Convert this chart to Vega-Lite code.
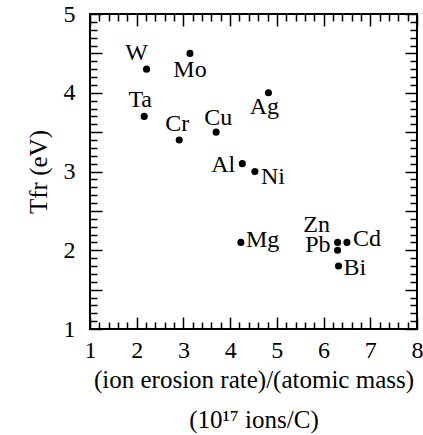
{
  "$schema": "https://vega.github.io/schema/vega-lite/v6.json",
  "width": 327,
  "height": 315,
  "autosize": {"type": "none"},
  "padding": {"left": 90, "top": 14, "right": 6, "bottom": 106},
  "background": "white",
  "config": {
    "view": {"stroke": "black", "strokeWidth": 2},
    "font": "Liberation Serif",
    "text": {"font": "Liberation Serif"},
    "axis": {
      "grid": false,
      "domain": false,
      "ticks": true,
      "tickColor": "black",
      "tickWidth": 1.5,
      "tickOpacity": 1,
      "labelColor": "black",
      "labelFont": "Liberation Serif",
      "labelFontSize": 24,
      "titleColor": "black",
      "titleFont": "Liberation Serif",
      "titleFontSize": 25,
      "titleFontWeight": "normal"
    }
  },
  "data": {
    "values": [
      {"el": "W", "rate": 2.21, "T": 4.3},
      {"el": "Mo", "rate": 3.14, "T": 4.5},
      {"el": "Ag", "rate": 4.82, "T": 4.0},
      {"el": "Ta", "rate": 2.16, "T": 3.7},
      {"el": "Cr", "rate": 2.91, "T": 3.4},
      {"el": "Cu", "rate": 3.7, "T": 3.5},
      {"el": "Al", "rate": 4.26, "T": 3.1},
      {"el": "Ni", "rate": 4.53, "T": 3.0},
      {"el": "Mg", "rate": 4.23, "T": 2.1},
      {"el": "Zn", "rate": 6.3, "T": 2.1},
      {"el": "Pb", "rate": 6.3, "T": 2.0},
      {"el": "Cd", "rate": 6.5, "T": 2.1},
      {"el": "Bi", "rate": 6.32, "T": 1.8}
    ]
  },
  "encoding": {
    "x": {"field": "rate", "type": "quantitative", "scale": {"domain": [1, 8], "nice": false, "zero": false}, "axis": null},
    "y": {"field": "T", "type": "quantitative", "scale": {"domain": [1, 5], "nice": false, "zero": false}, "axis": null}
  },
  "layer": [
    {
      "mark": {"type": "circle", "color": "black", "size": 50, "opacity": 1},
      "encoding": {
        "x": {"field": "rate", "type": "quantitative", "scale": {"domain": [1, 8], "nice": false, "zero": false},
          "axis": {"orient": "bottom", "offset": -12, "values": [1, 2, 3, 4, 5, 6, 7, 8], "tickSize": 12, "labelPadding": 9, "labelFlush": false,
            "labelFont": "Liberation Serif", "labelFontSize": 24, "labelColor": "black",
            "title": ["(ion erosion rate)/(atomic mass)", "(10¹⁷ ions/C)"], "titleLineHeight": 40, "titlePadding": 5}},
        "y": {"field": "T", "type": "quantitative", "scale": {"domain": [1, 5], "nice": false, "zero": false},
          "axis": {"orient": "left", "offset": -12, "values": [1, 1.5, 2, 2.5, 3, 3.5, 4, 4.5, 5], "tickSize": 12, "labelPadding": 15, "labelFlush": false,
            "labelFont": "Liberation Serif", "labelFontSize": 24, "labelColor": "black",
            "labelExpr": "datum.value % 1 === 0 ? format(datum.value, 'd') : ''", "title": "Tfr (eV)", "titlePadding": 12}}
      }
    },
    {
      "mark": {"type": "circle", "opacity": 0},
      "encoding": {
        "x": {"field": "rate", "type": "quantitative", "scale": {"domain": [1, 8], "nice": false, "zero": false},
          "axis": {"orient": "bottom", "offset": -7, "values": [1.2, 1.4, 1.6, 1.8, 2.2, 2.4, 2.6, 2.8, 3.2, 3.4, 3.6, 3.8, 4.2, 4.4, 4.6, 4.8, 5.2, 5.4, 5.6, 5.8, 6.2, 6.4, 6.6, 6.8, 7.2, 7.4, 7.6, 7.8], "tickSize": 7, "labels": false, "title": null}},
        "y": {"field": "T", "type": "quantitative", "scale": {"domain": [1, 5], "nice": false, "zero": false},
          "axis": {"orient": "left", "offset": -7, "values": [1.1, 1.2, 1.3, 1.4, 1.6, 1.7, 1.8, 1.9, 2.1, 2.2, 2.3, 2.4, 2.6, 2.7, 2.8, 2.9, 3.1, 3.2, 3.3, 3.4, 3.6, 3.7, 3.8, 3.9, 4.1, 4.2, 4.3, 4.4, 4.6, 4.7, 4.8, 4.9], "tickSize": 7, "labels": false, "title": null}}
      }
    },
    {
      "mark": {"type": "circle", "opacity": 0},
      "encoding": {
        "x": {"field": "rate", "type": "quantitative", "scale": {"domain": [1, 8], "nice": false, "zero": false},
          "axis": {"orient": "top", "offset": -12, "values": [1, 2, 3, 4, 5, 6, 7, 8], "tickSize": 12, "labels": false, "title": null}},
        "y": {"field": "T", "type": "quantitative", "scale": {"domain": [1, 5], "nice": false, "zero": false},
          "axis": {"orient": "right", "offset": -12, "values": [1, 1.5, 2, 2.5, 3, 3.5, 4, 4.5, 5], "tickSize": 12, "labels": false, "title": null}}
      }
    },
    {
      "mark": {"type": "circle", "opacity": 0},
      "encoding": {
        "x": {"field": "rate", "type": "quantitative", "scale": {"domain": [1, 8], "nice": false, "zero": false},
          "axis": {"orient": "top", "offset": -7, "values": [1.2, 1.4, 1.6, 1.8, 2.2, 2.4, 2.6, 2.8, 3.2, 3.4, 3.6, 3.8, 4.2, 4.4, 4.6, 4.8, 5.2, 5.4, 5.6, 5.8, 6.2, 6.4, 6.6, 6.8, 7.2, 7.4, 7.6, 7.8], "tickSize": 7, "labels": false, "title": null}},
        "y": {"field": "T", "type": "quantitative", "scale": {"domain": [1, 5], "nice": false, "zero": false},
          "axis": {"orient": "right", "offset": -7, "values": [1.1, 1.2, 1.3, 1.4, 1.6, 1.7, 1.8, 1.9, 2.1, 2.2, 2.3, 2.4, 2.6, 2.7, 2.8, 2.9, 3.1, 3.2, 3.3, 3.4, 3.6, 3.7, 3.8, 3.9, 4.1, 4.2, 4.3, 4.4, 4.6, 4.7, 4.8, 4.9], "tickSize": 7, "labels": false, "title": null}}
      }
    },
    {"transform": [{"filter": "datum.el === 'W'"}], "mark": {"type": "text", "fontSize": 24, "font": "Liberation Serif", "color": "black", "align": "center", "baseline": "alphabetic", "dx": -10, "dy": -9}, "encoding": {"text": {"field": "el"}}},
    {"transform": [{"filter": "datum.el === 'Mo'"}], "mark": {"type": "text", "fontSize": 24, "font": "Liberation Serif", "color": "black", "align": "center", "baseline": "alphabetic", "dx": 0, "dy": 24}, "encoding": {"text": {"field": "el"}}},
    {"transform": [{"filter": "datum.el === 'Ag'"}], "mark": {"type": "text", "fontSize": 24, "font": "Liberation Serif", "color": "black", "align": "center", "baseline": "alphabetic", "dx": -4, "dy": 21}, "encoding": {"text": {"field": "el"}}},
    {"transform": [{"filter": "datum.el === 'Ta'"}], "mark": {"type": "text", "fontSize": 24, "font": "Liberation Serif", "color": "black", "align": "center", "baseline": "alphabetic", "dx": -4, "dy": -9}, "encoding": {"text": {"field": "el"}}},
    {"transform": [{"filter": "datum.el === 'Cr'"}], "mark": {"type": "text", "fontSize": 24, "font": "Liberation Serif", "color": "black", "align": "center", "baseline": "alphabetic", "dx": -2, "dy": -9}, "encoding": {"text": {"field": "el"}}},
    {"transform": [{"filter": "datum.el === 'Cu'"}], "mark": {"type": "text", "fontSize": 24, "font": "Liberation Serif", "color": "black", "align": "center", "baseline": "alphabetic", "dx": 2, "dy": -7}, "encoding": {"text": {"field": "el"}}},
    {"transform": [{"filter": "datum.el === 'Zn'"}], "mark": {"type": "text", "fontSize": 24, "font": "Liberation Serif", "color": "black", "align": "center", "baseline": "alphabetic", "dx": -21, "dy": -10}, "encoding": {"text": {"field": "el"}}},
    {"transform": [{"filter": "datum.el === 'Al'"}], "mark": {"type": "text", "fontSize": 24, "font": "Liberation Serif", "color": "black", "align": "right", "baseline": "alphabetic", "dx": -7, "dy": 8}, "encoding": {"text": {"field": "el"}}},
    {"transform": [{"filter": "datum.el === 'Pb'"}], "mark": {"type": "text", "fontSize": 24, "font": "Liberation Serif", "color": "black", "align": "right", "baseline": "alphabetic", "dx": -7, "dy": 2}, "encoding": {"text": {"field": "el"}}},
    {"transform": [{"filter": "datum.el === 'Ni'"}], "mark": {"type": "text", "fontSize": 24, "font": "Liberation Serif", "color": "black", "align": "left", "baseline": "alphabetic", "dx": 6, "dy": 12}, "encoding": {"text": {"field": "el"}}},
    {"transform": [{"filter": "datum.el === 'Mg'"}], "mark": {"type": "text", "fontSize": 24, "font": "Liberation Serif", "color": "black", "align": "left", "baseline": "alphabetic", "dx": 5, "dy": 5}, "encoding": {"text": {"field": "el"}}},
    {"transform": [{"filter": "datum.el === 'Cd'"}], "mark": {"type": "text", "fontSize": 24, "font": "Liberation Serif", "color": "black", "align": "left", "baseline": "alphabetic", "dx": 6, "dy": 4}, "encoding": {"text": {"field": "el"}}},
    {"transform": [{"filter": "datum.el === 'Bi'"}], "mark": {"type": "text", "fontSize": 24, "font": "Liberation Serif", "color": "black", "align": "left", "baseline": "alphabetic", "dx": 5, "dy": 9}, "encoding": {"text": {"field": "el"}}}
  ],
  "resolve": {"axis": {"x": "independent", "y": "independent"}}
}
